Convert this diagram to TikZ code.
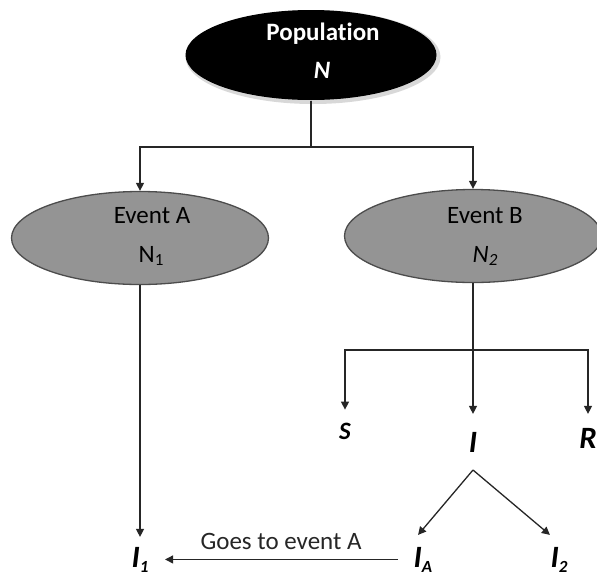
\documentclass[tikz,border=0pt]{standalone}
\usepackage{fontspec}
\setmainfont{Carlito}[Ligatures=NoCommon]
\usetikzlibrary{arrows.meta,shapes.geometric}

\newcommand{\lowsub}[2][3pt]{\raisebox{-#1}{\fontsize{17}{17}\selectfont #2}}

\tikzset{
  link/.style={black!85},
  arr/.style={link, -{Triangle[length=8pt,width=8pt]}},
  blob/.style={ellipse, inner sep=0pt},
  word/.style={anchor=base, inner sep=0pt, font=\fontsize{25}{28}\selectfont},
  sym/.style={anchor=base, inner sep=0pt, font=\fontsize{31}{36}\selectfont\bfseries\itshape},
}

\begin{document}
\begin{tikzpicture}[x=1pt,y=-1pt,line width=1.3pt]
    \useasboundingbox (0,0) rectangle (597,576);
    \coordinate (F1) at (311,147);
    \coordinate (F2) at (473,350);

    % ellipses
    \node[blob, fill=black!30, opacity=0.5, minimum width=255pt, minimum height=94pt] (Pshade) at (313,57) {};
    \node[blob, fill=black, minimum width=251pt, minimum height=90pt] (P) at (311,55) {};
    \node[blob, fill=black!42, draw=black!70, minimum width=257pt, minimum height=93pt] (EA) at (140,238) {};
    \node[blob, fill=black!42, draw=black!70, minimum width=257pt, minimum height=93pt] (EB) at (473,236) {};

    \node[word, white] (Pname) at (323,40) {\textbf{Population}};
    \node[word, white] (Pn) at (322,78) {\textbf{\textit{N}}};
    \node[word] (EAname) at (152,223) {Event A};
    \node[word] (EAn) at (151,262) {N\lowsub{1}};
    \node[word] (EBname) at (485,223) {Event B};
    \node[word] (EBn) at (485,262) {\textit{N\lowsub{2}}};

    % S I R and the I branches
    \node[sym, font=\fontsize{25}{28}\selectfont\bfseries\itshape, outer ysep=13pt] (S) at (345,439) {S};
    \node[sym, outer ysep=18pt] (I) at (473,452) {I};
    \node[sym, outer ysep=14pt] (R) at (588,448) {R};
    \node[sym, outer ysep=10pt] (I1) at (140,567) {I\lowsub[5pt]{1}};
    \node[sym, outer ysep=12pt] (IA) at (423,567) {I\lowsub[5pt]{A}};
    \node[sym, outer ysep=12pt] (I2) at (559,567) {I\lowsub[5pt]{2}};

    \draw[link] (P) -- (F1); % stem
    \draw[arr] (F1) -| (EA);
    \draw[arr] (F1) -| (EB);
    \draw[arr] (EA) -- (I1);
    \draw[link] (EB) -- (F2);
    \draw[arr] (F2) -| (S);
    \draw[arr] (F2) -- (I);
    \draw[arr] (F2) -| (R);
    \draw[arr] (I.south) -- ([xshift=5pt]IA.north west);
    \draw[arr] (I.south) -- (I2.north west);
    \draw[arr, shorten <=15pt, shorten >=16pt] (IA.west) -- (I1.east)
        node[midway, above=9pt, inner sep=0pt, font=\fontsize{25}{28}\selectfont] (goes) {Goes to event A};
\end{tikzpicture}
\end{document}
